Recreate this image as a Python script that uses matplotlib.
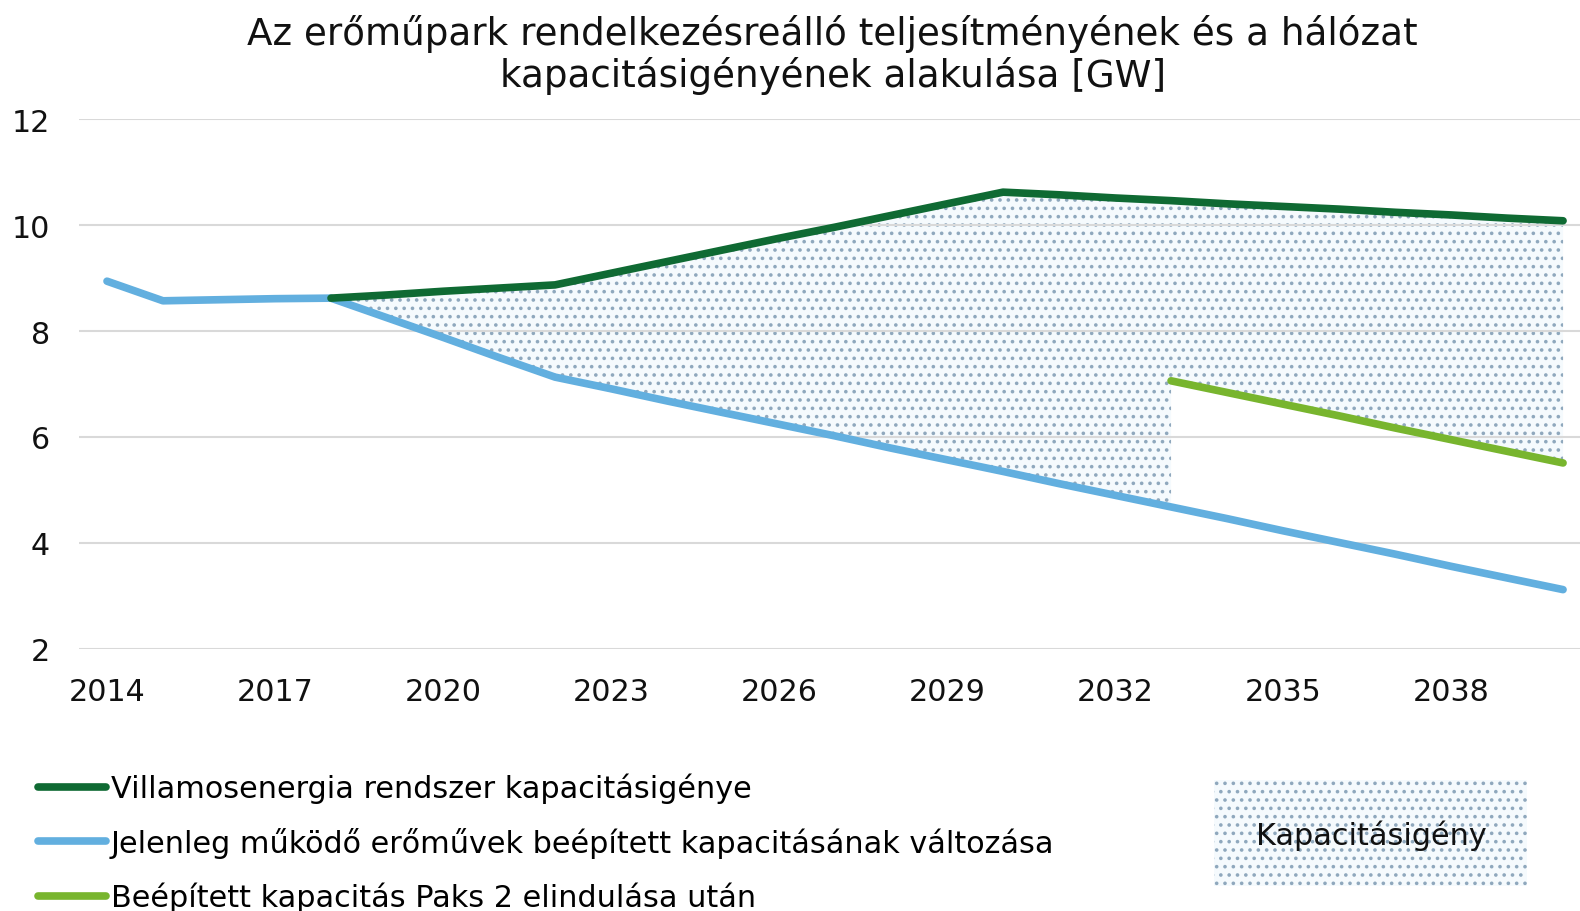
import matplotlib.pyplot as plt
from matplotlib.patches import Rectangle

plt.rcParams['font.family'] = ['DejaVu Sans']
plt.rcParams['hatch.linewidth'] = 1.4

years = list(range(2014, 2041))
igeny = [None, None, None, None, 8.62, 8.68, 8.75, 8.81, 8.87, 9.09, 9.31, 9.53, 9.75, 9.96,
         10.18, 10.40, 10.62, 10.57, 10.51, 10.46, 10.40, 10.35, 10.30, 10.24, 10.19, 10.13, 10.08]
jelenleg = [8.94, 8.57, 8.59, 8.61, 8.62, 8.25, 7.88, 7.50, 7.13, 6.91, 6.68, 6.46, 6.24, 6.02,
            5.79, 5.57, 5.35, 5.12, 4.90, 4.68, 4.46, 4.23, 4.01, 3.79, 3.56, 3.34, 3.12]
paks_years = list(range(2033, 2041))
paks = [7.06, 6.84, 6.62, 6.40, 6.17, 5.95, 5.73, 5.51]

labels = ['Villamosenergia rendszer kapacitásigénye',
          'Jelenleg működő erőművek beépített kapacitásának változása',
          'Beépített kapacitás Paks 2 elindulása után']
colors = ['#0f6a33', '#62afdf', '#78b52e']
fill_face = '#f5fafd'
fill_dots = '#8fa8bd'

fig = plt.figure(figsize=(15.8, 9.12), dpi=100)
ax = fig.add_axes([0.05, 0.2873, 0.957, 0.5811])

# kapacitásigény area
i0 = years.index(2018)
i1 = years.index(2033)
ax.fill_between(years[i0:i1 + 1], jelenleg[i0:i1 + 1], igeny[i0:i1 + 1],
                facecolor=fill_face, edgecolor=fill_dots, hatch='..', linewidth=0, zorder=1)
ax.fill_between(paks_years, paks, igeny[i1:],
                facecolor=fill_face, edgecolor=fill_dots, hatch='..', linewidth=0, zorder=1)

ax.plot(years, igeny, color=colors[0], lw=5.5, solid_capstyle='round', zorder=3, label=labels[0])
ax.plot(years, jelenleg, color=colors[1], lw=5.5, solid_capstyle='round', zorder=2, label=labels[1])
ax.plot(paks_years, paks, color=colors[2], lw=5.5, solid_capstyle='round', zorder=3, label=labels[2])

ax.set_xlim(2013.5, 2040.5)
ax.set_ylim(2, 12)
ax.set_yticks([2, 4, 6, 8, 10, 12])
ax.set_xticks(list(range(2014, 2041, 3)))
ax.tick_params(length=0, labelsize=21.7, colors='#111111')
ax.tick_params(axis='x', pad=20)
ax.tick_params(axis='y', pad=21)
ax.grid(axis='y', color='#d9d9d9', lw=1.5, zorder=0)
for s in ax.spines.values():
    s.set_visible(False)

fig.text(0.527, 0.984, 'Az erőműpark rendelkezésreálló teljesítményének és a hálózat\nkapacitásigényének alakulása [GW]',
         ha='center', va='top', fontsize=26.8, color='#111111', linespacing=1.15)

fig.legend(loc='upper left', bbox_to_anchor=(0.0165, 0.165), frameon=False, fontsize=21.8,
           handlelength=2.23, handletextpad=0.16, labelspacing=0.79, borderaxespad=0)

box = Rectangle((1214 / 1580, 1 - 887 / 912), 313 / 1580, 106 / 912, transform=fig.transFigure,
                facecolor=fill_face, edgecolor=fill_dots, hatch='..', linewidth=0)
fig.patches.append(box)
fig.text(1371 / 1580, 1 - 836 / 912, 'Kapacitásigény', ha='center', va='center', fontsize=21.8, color='#111111')

fig.savefig('out.png', dpi=100)
